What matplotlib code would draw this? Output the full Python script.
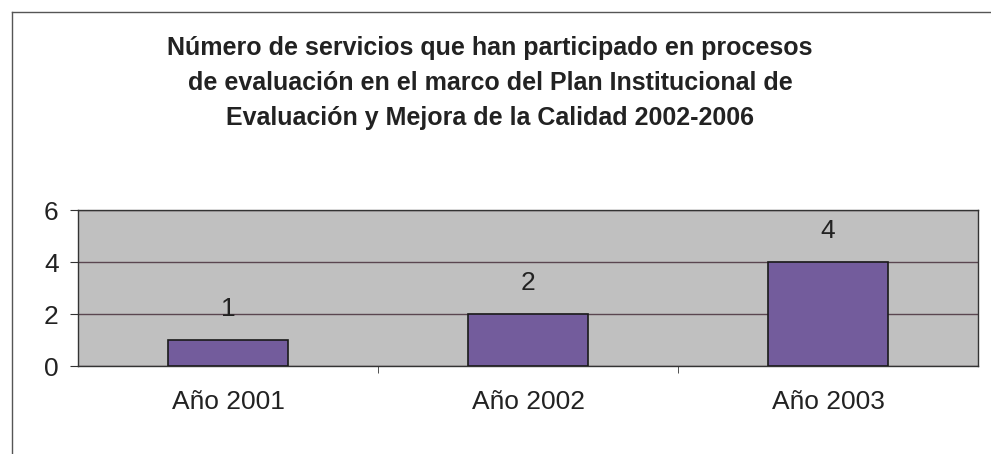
#!/usr/bin/env python3
"""Number of services evaluated per year, as an Excel-style bar chart."""

import matplotlib

matplotlib.use("Agg")

import matplotlib.pyplot as plt
from matplotlib.lines import Line2D

categories = ["Año 2001", "Año 2002", "Año 2003"]
values = [1, 2, 4]
y_ticks = [0, 2, 4, 6]

TITLE = (
    "Número de servicios que han participado en procesos\n"
    "de evaluación en el marco del Plan Institucional de\n"
    "Evaluación y Mejora de la Calidad 2002-2006"
)
BAR_COLOR = "#735c9c"
PLOT_BG = "#c0c0c0"
GRID_COLOR = "#5a4650"

plt.rcParams["font.family"] = ["Liberation Sans", "DejaVu Sans"]

fig = plt.figure(figsize=(9.91, 4.54), dpi=100)
fig.patch.set_facecolor("white")

# outer chart frame (only top and left edges are visible in the scan)
fig.add_artist(Line2D([12 / 991, 1.0], [1 - 12 / 454, 1 - 12 / 454],
                      transform=fig.transFigure, color="#555555", lw=1))
fig.add_artist(Line2D([12 / 991, 12 / 991], [0.0, 1 - 12 / 454],
                      transform=fig.transFigure, color="#555555", lw=1))

ax = fig.add_axes([78 / 991, 1 - 366 / 454, 900 / 991, 156 / 454])
ax.set_facecolor(PLOT_BG)

x = list(range(len(categories)))
bars = ax.bar(x, values, width=0.4, color=BAR_COLOR, edgecolor="#1a1a1a",
              linewidth=1.2, zorder=3)

for bar, v in zip(bars, values):
    ax.annotate(str(v), xy=(bar.get_x() + bar.get_width() / 2, bar.get_height()),
                xytext=(0, 22), textcoords="offset points",
                ha="center", va="center", fontsize=19, color="#222222")

ax.set_xlim(-0.5, len(categories) - 0.5)
ax.set_ylim(0, 6)
ax.set_yticks(y_ticks)
ax.yaxis.grid(True, color=GRID_COLOR, lw=1, zorder=1)
ax.set_axisbelow(True)

ax.set_xticks(x)
ax.set_xticklabels(categories, fontsize=19, color="#222222")
ax.tick_params(axis="x", length=0, pad=17)
ax.set_xticks([i + 0.5 for i in x[:-1]], minor=True)
ax.tick_params(axis="x", which="minor", length=5, direction="out", color="#333333")
ax.tick_params(axis="y", labelsize=19, labelcolor="#222222", length=6,
               direction="out", color="#333333", pad=8)

for side in ["top", "right", "left", "bottom"]:
    ax.spines[side].set_color("#333333")
    ax.spines[side].set_linewidth(1)

fig.text(490 / 991, 1 - 83 / 454, TITLE, ha="center", va="center",
         fontsize=18, fontweight="bold", color="#222222", linespacing=1.6)

plt.savefig("out.png", dpi=100)
plt.close()
